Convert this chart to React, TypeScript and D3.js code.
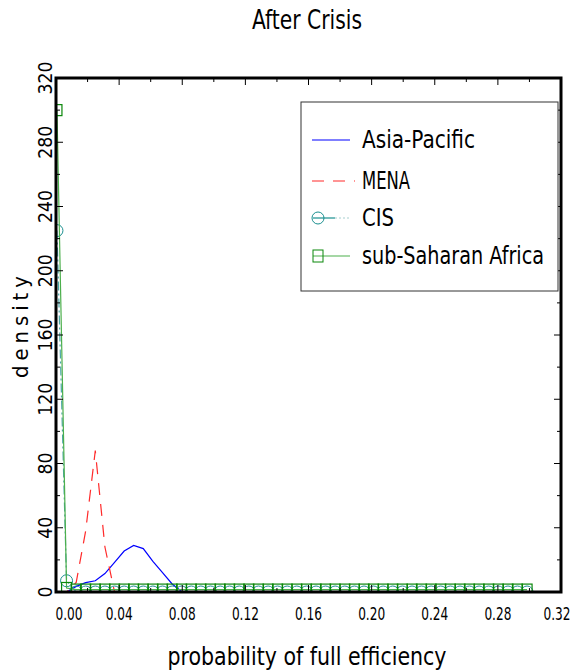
import React from "react";
import * as d3 from "d3";

// ---- data ----
const xGrid = [
  0.0006, 0.0067, 0.0128, 0.0188, 0.0249, 0.031, 0.0371, 0.0432, 0.0492, 0.0553,
  0.0614, 0.0675, 0.0736, 0.0796, 0.0857, 0.0918, 0.0979, 0.104, 0.11, 0.1161,
  0.1222, 0.1283, 0.1344, 0.1404, 0.1465, 0.1526, 0.1587, 0.1648, 0.1708, 0.1769,
  0.183, 0.1891, 0.1952, 0.2012, 0.2073, 0.2134, 0.2195, 0.2256, 0.2316, 0.2377,
  0.2438, 0.2499, 0.256, 0.262, 0.2681, 0.2742, 0.2803, 0.2864, 0.2924, 0.2985,
];
const asiaPacific = [
  0, 0, 3.5, 5.8, 7, 11.5, 18.5, 25.5, 29, 27, 19, 12, 5, 0.3, 0, 0, 0, 0, 0, 0,
  0, 0, 0, 0, 0, 0, 0, 0, 0, 0, 0, 0, 0, 0, 0, 0, 0, 0, 0, 0,
  0, 0, 0, 0, 0, 0, 0, 0, 0, 0,
];
const mena = [
  0, 0, 6, 38, 88, 28, 0, 0, 0, 0, 0, 0, 0, 0, 0, 0, 0, 0, 0, 0,
  0, 0, 0, 0, 0, 0, 0, 0, 0, 0, 0, 0, 0, 0, 0, 0, 0, 0, 0, 0,
  0, 0, 0, 0, 0, 0, 0, 0, 0, 0,
];
const cis = [
  225, 7, 0, 0, 0, 0, 0, 0, 0, 0, 0, 0, 0, 0, 0, 0, 0, 0, 0, 0,
  0, 0, 0, 0, 0, 0, 0, 0, 0, 0, 0, 0, 0, 0, 0, 0, 0, 0, 0, 0,
  0, 0, 0, 0, 0, 0, 0, 0, 0, 0,
];
const ssa = [
  300, 2.5, 1.5, 1.5, 1.5, 1.5, 1.5, 1.5, 1.5, 1.5, 1.5, 1.5, 1.5, 1.5, 1.5, 1.5, 1.5, 1.5, 1.5, 1.5,
  1.5, 1.5, 1.5, 1.5, 1.5, 1.5, 1.5, 1.5, 1.5, 1.5, 1.5, 1.5, 1.5, 1.5, 1.5, 1.5, 1.5, 1.5, 1.5, 1.5,
  1.5, 1.5, 1.5, 1.5, 1.5, 1.5, 1.5, 1.5, 1.5, 1.5,
];
const xTicks = [0, 0.04, 0.08, 0.12, 0.16, 0.2, 0.24, 0.28, 0.32];
const xMinor = [0.02, 0.06, 0.1, 0.14, 0.18, 0.22, 0.26, 0.3];
const yTicks = [0, 40, 80, 120, 160, 200, 240, 280, 320];
const yMinor = [20, 60, 100, 140, 180, 220, 260, 300];
const legendLabels = ["Asia-Pacific", "MENA", "CIS", "sub-Saharan Africa"];

const FONT = "'Liberation Sans Narrow', 'DejaVu Sans Condensed', 'Roboto', sans-serif";

export default function App() {
  const L = 56, R = 561, T = 78, B = 592;
  const x = d3.scaleLinear().domain([0, 0.32]).range([L, R]);
  const y = d3.scaleLinear().domain([0, 320]).range([B, T]);
  const mk = (vals: number[]) =>
    d3.line<number>().x((_, i) => x(xGrid[i])).y((v) => y(v))(vals) || "";

  const blue = "#0000ff";
  const red = "#ff2a2a";
  const teal = "#1a8f8f";
  const tealLine = "#4aa6a6";
  const green = "#0a870a";
  const greenLine = "#4caf4c";

  return (
    <svg
      width={581}
      height={671}
      style={{ position: "absolute", left: 0, top: 0, background: "#fff" }}
      fontFamily={FONT}
    >
      <defs>
        <clipPath id="plotclip">
          <rect x={L} y={T} width={R - L} height={B - T} />
        </clipPath>
      </defs>
      <rect x={0} y={0} width={581} height={671} fill="#fff" />

      {/* title */}
      <text x={307} y={29} fontSize={27} textAnchor="middle" textLength={110} lengthAdjust="spacingAndGlyphs">
        After Crisis
      </text>

      {/* series */}
      <g clipPath="url(#plotclip)">
        <path d={mk(asiaPacific)} fill="none" stroke={blue} strokeWidth={1.2} />
        <path d={mk(mena)} fill="none" stroke={red} strokeWidth={1.2} strokeDasharray="12,9" />
        <path d={mk(cis)} fill="none" stroke={tealLine} strokeWidth={1.2} strokeDasharray="9,3,2,3" />
        {cis.map((v, i) => (
          <circle key={"c" + i} cx={x(xGrid[i])} cy={y(v)} r={6} fill="none" stroke={teal} strokeWidth={1} />
        ))}
        <path d={mk(ssa)} fill="none" stroke={greenLine} strokeWidth={1.2} />
        {ssa.map((v, i) => (
          <rect key={"s" + i} x={x(xGrid[i]) - 5} y={y(v) - 5.5} width={10} height={11} fill="none" stroke={green} strokeWidth={1.2} />
        ))}
      </g>

      {/* ticks */}
      <g stroke="#000" strokeWidth={1}>
        {xTicks.map((t) => (
          <g key={"xt" + t}>
            <line x1={x(t)} x2={x(t)} y1={B} y2={B - 7} />
            <line x1={x(t)} x2={x(t)} y1={T} y2={T + 7} />
          </g>
        ))}
        {xMinor.map((t) => (
          <g key={"xm" + t}>
            <line x1={x(t)} x2={x(t)} y1={B} y2={B - 4} />
            <line x1={x(t)} x2={x(t)} y1={T} y2={T + 4} />
          </g>
        ))}
        {yTicks.map((t) => (
          <g key={"yt" + t}>
            <line x1={L} x2={L + 7} y1={y(t)} y2={y(t)} />
            <line x1={R} x2={R - 7} y1={y(t)} y2={y(t)} />
          </g>
        ))}
        {yMinor.map((t) => (
          <g key={"ym" + t}>
            <line x1={L} x2={L + 4} y1={y(t)} y2={y(t)} />
            <line x1={R} x2={R - 4} y1={y(t)} y2={y(t)} />
          </g>
        ))}
      </g>

      {/* frame */}
      <rect x={L} y={T} width={R - L} height={B - T} fill="none" stroke="#000" strokeWidth={3} />

      {/* x tick labels */}
      {xTicks.map((t, i) => (
        <text
          key={"xl" + t}
          x={i === 0 ? x(t) + 13 : i === xTicks.length - 1 ? x(t) - 4 : x(t)}
          y={620}
          fontSize={18}
          textAnchor="middle"
          textLength={27}
          lengthAdjust="spacingAndGlyphs"
        >
          {t.toFixed(2)}
        </text>
      ))}

      {/* y tick labels */}
      {yTicks.map((t) => {
        const s = String(t);
        const len = s.length === 1 ? 11 : s.length === 2 ? 22 : 33;
        return (
          <text
            key={"yl" + t}
            transform={`translate(52,${y(t)}) rotate(-90)`}
            fontSize={19}
            textAnchor="middle"
            textLength={len}
            lengthAdjust="spacingAndGlyphs"
          >
            {s}
          </text>
        );
      })}

      {/* axis titles */}
      <text
        transform={`translate(28,327) rotate(-90)`}
        fontSize={22}
        textAnchor="middle"
        textLength={102}
        lengthAdjust="spacing"
      >
        density
      </text>
      <text x={307} y={665} fontSize={25} textAnchor="middle" textLength={279} lengthAdjust="spacingAndGlyphs">
        probability of full efficiency
      </text>

      {/* legend */}
      <rect x={301} y={102} width={257} height={189} fill="#fff" stroke="#333" strokeWidth={1} />
      <line x1={312} x2={350} y1={140} y2={140} stroke={blue} strokeWidth={1.2} />
      <line x1={312} x2={355} y1={181} y2={181} stroke={red} strokeWidth={1.2} strokeDasharray="12,9" />
      <line x1={313} x2={335} y1={218} y2={218} stroke={teal} strokeWidth={1.2} />
      <line x1={335} x2={350} y1={218} y2={218} stroke="#a8d0d0" strokeWidth={1.2} strokeDasharray="2,2" />
      <circle cx={318} cy={218} r={6} fill="none" stroke={teal} strokeWidth={1} />
      <line x1={313} x2={350} y1={256} y2={256} stroke={greenLine} strokeWidth={1.2} />
      <rect x={313} y={250} width={10} height={12} fill="none" stroke={green} strokeWidth={1} />
      {legendLabels.map((lab, i) => {
        const ys = [148, 189, 226, 264];
        const lens = [113, 48, 32, 182];
        return (
          <text key={lab} x={362} y={ys[i]} fontSize={24} textLength={lens[i]} lengthAdjust="spacingAndGlyphs">
            {lab}
          </text>
        );
      })}
    </svg>
  );
}
